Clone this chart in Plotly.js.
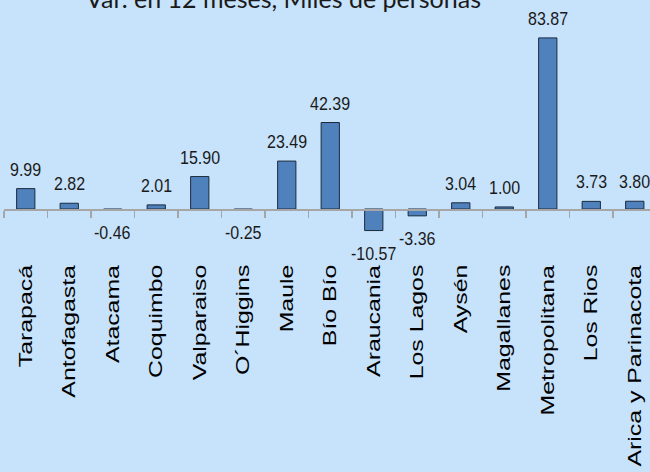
<!DOCTYPE html>
<html>
<head>
<meta charset="utf-8">
<script src="https://cdn.plot.ly/plotly-3.0.1.min.js"></script>
<style>html,body{margin:0;padding:0;background:#c7e2fb;} #chart{width:650px;height:472px;}</style>
</head>
<body>
<div id="chart"></div>
<script>
const categories = ["Tarapacá","Antofagasta","Atacama","Coquimbo","Valparaiso","O´Higgins","Maule","Bío Bío","Araucania","Los Lagos","Aysén","Magallanes","Metropolitana","Los Rios","Arica y Parinacota"];
const values = [9.99, 2.82, -0.46, 2.01, 15.90, -0.25, 23.49, 42.39, -10.57, -3.36, 3.04, 1.00, 83.87, 3.73, 3.80];
const titleText = "Var. en 12 meses, Miles de personas";

const bg = "#c7e2fb";
const trace = {
  type: "bar",
  x: categories,
  y: values,
  marker: {color: "#4f81bd", line: {color: "#1b2a3c", width: 1}},
  hoverinfo: "x+y"
};

const annotations = categories.map((c, i) => ({
  x: c, y: values[i], xref: "x", yref: "y",
  text: values[i].toFixed(2),
  showarrow: false,
  yanchor: values[i] >= 0 ? "bottom" : "top",
  yshift: values[i] >= 0 ? 9 : -12,
  font: {family: "Liberation Sans, Arial, sans-serif", size: 16, color: "#1a1a1a"}
}));
annotations.push({
  xref: "paper", yref: "paper", x: 0.433, y: 1, yanchor: "middle", yshift: 2,
  text: titleText, showarrow: false,
  font: {family: "Lato, sans-serif", size: 25, color: "#1a1a1a"}
});

const layout = {
  width: 650, height: 472,
  margin: {l: 4, r: 0, t: 0, b: 222, pad: 0},
  paper_bgcolor: bg, plot_bgcolor: bg,
  showlegend: false,
  bargap: 0.58,
  xaxis: {
    type: "category",
    range: [-0.5, 14.35],
    anchor: "free", position: 41/250,
    showline: true, linecolor: "#a6a6a6", linewidth: 1.5,
    ticks: "outside", tickson: "boundaries", ticklen: 7, tickcolor: "#a6a6a6", tickwidth: 1.5,
    tickangle: -90,
    ticklabelstandoff: 47,
    tickfont: {family: "Liberation Sans, Arial, sans-serif", size: 18, color: "#000"},
    showgrid: false, zeroline: false, fixedrange: true
  },
  yaxis: {
    range: [-20.1, 102.45],
    visible: false, showgrid: false, zeroline: false, fixedrange: true
  },
  annotations: annotations
};

function stretchY(el, sy, mode) {
  const r = el.getBoundingClientRect();
  const parent = el.parentNode;
  const svg = el.ownerSVGElement;
  if (!parent || !svg || !parent.getScreenCTM) return;
  const m = parent.getScreenCTM().inverse();
  const pt = svg.createSVGPoint();
  pt.x = r.left + r.width / 2;
  pt.y = mode === "top" ? r.top : r.top + r.height / 2;
  const p = pt.matrixTransform(m);
  const old = el.getAttribute("transform") || "";
  el.setAttribute("transform", `translate(${p.x},${p.y}) scale(1,${sy}) translate(${-p.x},${-p.y}) ${old}`);
}

Plotly.newPlot("chart", [trace], layout, {displayModeBar: false, staticPlot: true}).then(gd => {
  gd.querySelectorAll(".xtick text").forEach(t => stretchY(t, 1.38, "top"));
  gd.querySelectorAll("text.annotation-text").forEach(t => {
    if (t.textContent !== titleText) stretchY(t, 1.15, "center");
  });
});
</script>
</body>
</html>
